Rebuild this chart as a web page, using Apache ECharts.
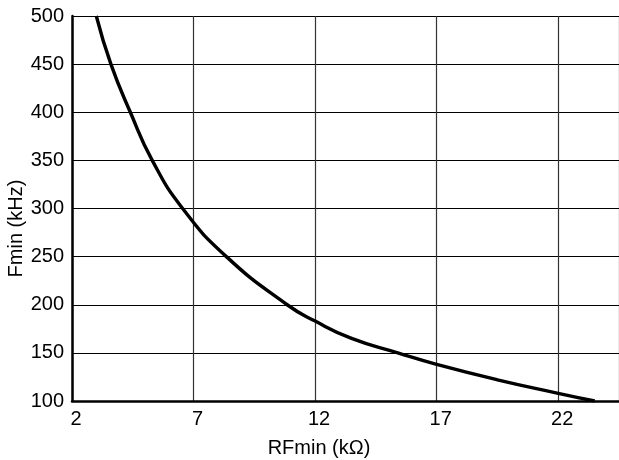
<!DOCTYPE html>
<html>
<head>
<meta charset="utf-8">
<script src="https://cdn.jsdelivr.net/npm/echarts@6/dist/echarts.min.js"></script>
<style>html,body{margin:0;padding:0;background:#fff;}#c{width:619px;height:460px;}</style>
</head>
<body>
<div id="c"></div>
<script>
var rfMin = [3.0, 3.6, 4.4, 5.3, 6.55, 8.35, 10.85, 12.0, 13.5, 15.4, 17.0, 19.5, 22.0, 23.5];
var fMin  = [500, 450, 400, 350, 300, 250, 200, 183, 165, 150, 138, 122, 108, 100];
var xTicks = [2, 7, 12, 17, 22];
var yTicks = [100, 150, 200, 250, 300, 350, 400, 450, 500];

var chart = echarts.init(document.getElementById('c'));
var font = 'Liberation Sans, Arial, Helvetica, sans-serif';
chart.setOption({
  animation: false,
  grid: {left: 72, right: 0, top: 16, bottom: 59, containLabel: false, outerBoundsMode: 'none'},
  xAxis: {
    type: 'value', min: 2, max: 24.5, interval: 5,
    name: 'RFmin (kΩ)', nameLocation: 'middle', nameGap: 37, nameMoveOverlap: false,
    nameTextStyle: {fontFamily: font, fontSize: 20, color: '#000', padding: [0, 53, 0, 0]},
    axisLine: {show: true, onZero: false, lineStyle: {color: '#000', width: 2.5}},
    axisTick: {show: false},
    axisLabel: {fontFamily: font, fontSize: 20, color: '#000', margin: 8, showMaxLabel: false,
      padding: [0, 0, 0, 8],
      formatter: function (v) { return xTicks.indexOf(v) >= 0 ? String(v) : ''; }},
    splitLine: {show: true, lineStyle: {color: '#333', width: 1.2}}
  },
  yAxis: {
    type: 'value', min: 100, max: 500, interval: 50,
    name: 'Fmin (kHz)', nameLocation: 'middle', nameGap: 46, nameMoveOverlap: false,
    nameTextStyle: {fontFamily: font, fontSize: 20, color: '#000', padding: [0, 40, 0, 0]},
    axisLine: {show: true, lineStyle: {color: '#000', width: 2.5}},
    axisTick: {show: false},
    axisLabel: {fontFamily: font, fontSize: 20, color: '#000', margin: 8,
      formatter: function (v) { return yTicks.indexOf(v) >= 0 ? String(v) : ''; }},
    splitLine: {show: true, lineStyle: {color: '#000', width: 1.2}}
  },
  series: [{
    type: 'line', smooth: 0.5, showSymbol: false,
    data: rfMin.map(function (x, i) { return [x, fMin[i]]; }),
    lineStyle: {color: '#000', width: 3.4}
  }]
});
</script>
</body>
</html>
